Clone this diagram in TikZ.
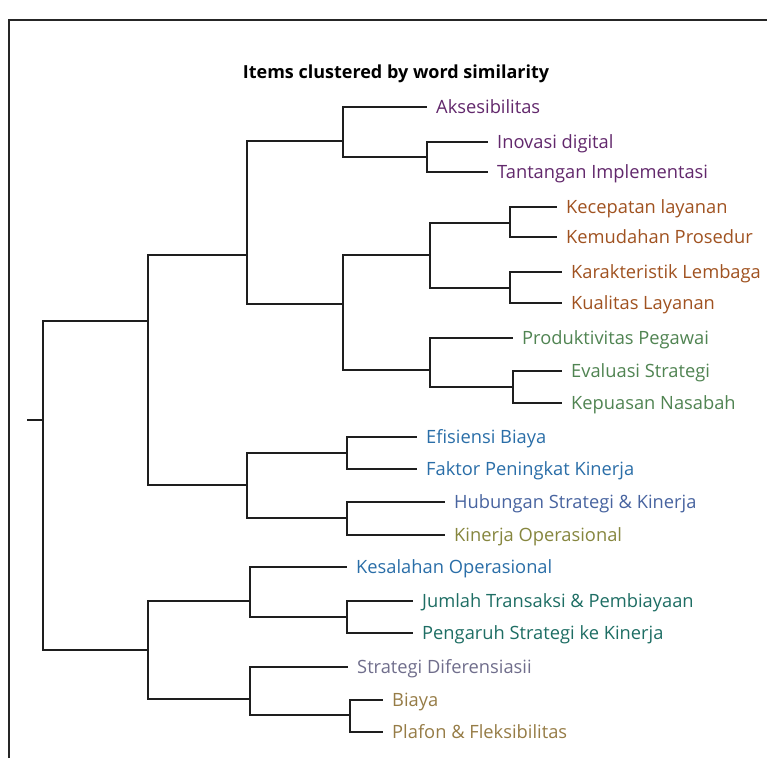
\documentclass[tikz,border=0pt]{standalone}
\usepackage{fontspec}
\setmainfont{Open Sans}
\definecolor{cPur}{RGB}{98,40,108}
\definecolor{cBro}{RGB}{160,82,32}
\definecolor{cGre}{RGB}{80,132,82}
\definecolor{cBlu}{RGB}{42,110,168}
\definecolor{cSla}{RGB}{72,100,160}
\definecolor{cOli}{RGB}{134,134,62}
\definecolor{cTea}{RGB}{30,110,100}
\definecolor{cGra}{RGB}{112,110,140}
\definecolor{cGol}{RGB}{150,124,70}
\definecolor{cLine}{RGB}{30,30,30}
\begin{document}
\begin{tikzpicture}[x=1pt,y=-1pt,
  br/.style={draw=cLine, line width=1.5pt},
  frm/.style={draw=black!85, line width=1.5pt},
  lbl/.style={anchor=base west, inner sep=0pt, font=\fontsize{18.3}{20}\selectfont},
  ttl/.style={inner sep=0pt, font=\bfseries\fontsize{18}{20}\selectfont}]
\useasboundingbox (0,0) rectangle (767,758);
\fill[white] (0,0) rectangle (767,758);
% frame
\coordinate (fb) at (9,758);
\coordinate (fc) at (9,20);
\coordinate (fr) at (767,20);
\draw[frm] (fb) -- (fc) -- (fr);
% title
\node[ttl] (title) at (396,74) {Items clustered by word similarity};
% internal nodes
\coordinate (r0) at (27,420);
\coordinate (r) at (43,420);
\coordinate (T) at (148,321);
\coordinate (U) at (148,650);
\coordinate (A) at (247,255);
\coordinate (B) at (247,485);
\coordinate (A1) at (343,141);
\coordinate (A2) at (343,304);
\coordinate (A1b) at (427,157);
\coordinate (A2a) at (430,255);
\coordinate (A2b) at (430,370);
\coordinate (A2a1) at (510,223);
\coordinate (A2a2) at (510,288);
\coordinate (A2b2) at (513,387);
\coordinate (B1) at (347,453);
\coordinate (B2) at (347,518);
\coordinate (U1) at (250,601);
\coordinate (U2) at (250,699);
\coordinate (U1b) at (347,617);
\coordinate (U2b) at (350,715);
% leaves
\coordinate (Aks) at (427,107);
\coordinate (Ino) at (488,142);
\coordinate (Tan) at (488,172);
\coordinate (Kec) at (557,207);
\coordinate (Kem) at (557,237);
\coordinate (Kar) at (562,272);
\coordinate (Kua) at (562,303);
\coordinate (Pro) at (513,338);
\coordinate (Eva) at (562,371);
\coordinate (Kep) at (562,403);
\coordinate (Efi) at (417,437);
\coordinate (Fak) at (417,469);
\coordinate (Hub) at (445,502);
\coordinate (Kin) at (445,535);
\coordinate (Kes) at (347,567);
\coordinate (Jum) at (413,601);
\coordinate (Pen) at (413,633);
\coordinate (Str) at (348,667);
\coordinate (Bia) at (383,700);
\coordinate (Pla) at (383,732);
% branches
\draw[br] (r0) -- (r);
\draw[br] (r) |- (T);
\draw[br] (r) |- (U);
\draw[br] (T) |- (A);
\draw[br] (T) |- (B);
\draw[br] (A) |- (A1);
\draw[br] (A) |- (A2);
\draw[br] (A1) |- (Aks);
\draw[br] (A1) |- (A1b);
\draw[br] (A1b) |- (Ino);
\draw[br] (A1b) |- (Tan);
\draw[br] (A2) |- (A2a);
\draw[br] (A2) |- (A2b);
\draw[br] (A2a) |- (A2a1);
\draw[br] (A2a) |- (A2a2);
\draw[br] (A2a1) |- (Kec);
\draw[br] (A2a1) |- (Kem);
\draw[br] (A2a2) |- (Kar);
\draw[br] (A2a2) |- (Kua);
\draw[br] (A2b) |- (Pro);
\draw[br] (A2b) |- (A2b2);
\draw[br] (A2b2) |- (Eva);
\draw[br] (A2b2) |- (Kep);
\draw[br] (B) |- (B1);
\draw[br] (B) |- (B2);
\draw[br] (B1) |- (Efi);
\draw[br] (B1) |- (Fak);
\draw[br] (B2) |- (Hub);
\draw[br] (B2) |- (Kin);
\draw[br] (U) |- (U1);
\draw[br] (U) |- (U2);
\draw[br] (U1) |- (Kes);
\draw[br] (U1) |- (U1b);
\draw[br] (U1b) |- (Jum);
\draw[br] (U1b) |- (Pen);
\draw[br] (U2) |- (Str);
\draw[br] (U2) |- (U2b);
\draw[br] (U2b) |- (Bia);
\draw[br] (U2b) |- (Pla);
% labels
\node[lbl,text=cPur] (tAks) at ([shift={(9,6.5)}]Aks) {Aksesibilitas};
\node[lbl,text=cPur] (tIno) at ([shift={(9,6.5)}]Ino) {Inovasi digital};
\node[lbl,text=cPur] (tTan) at ([shift={(9,6.5)}]Tan) {Tantangan Implementasi};
\node[lbl,text=cBro] (tKec) at ([shift={(9,6.5)}]Kec) {Kecepatan layanan};
\node[lbl,text=cBro] (tKem) at ([shift={(9,6.5)}]Kem) {Kemudahan Prosedur};
\node[lbl,text=cBro] (tKar) at ([shift={(9,6.5)}]Kar) {Karakteristik Lembaga};
\node[lbl,text=cBro] (tKua) at ([shift={(9,6.5)}]Kua) {Kualitas Layanan};
\node[lbl,text=cGre] (tPro) at ([shift={(9,6.5)}]Pro) {Produktivitas Pegawai};
\node[lbl,text=cGre] (tEva) at ([shift={(9,6.5)}]Eva) {Evaluasi Strategi};
\node[lbl,text=cGre] (tKep) at ([shift={(9,6.5)}]Kep) {Kepuasan Nasabah};
\node[lbl,text=cBlu] (tEfi) at ([shift={(9,6.5)}]Efi) {Efisiensi Biaya};
\node[lbl,text=cBlu] (tFak) at ([shift={(9,6.5)}]Fak) {Faktor Peningkat Kinerja};
\node[lbl,text=cSla] (tHub) at ([shift={(9,6.5)}]Hub) {Hubungan Strategi \& Kinerja};
\node[lbl,text=cOli] (tKin) at ([shift={(9,6.5)}]Kin) {Kinerja Operasional};
\node[lbl,text=cBlu] (tKes) at ([shift={(9,6.5)}]Kes) {Kesalahan Operasional};
\node[lbl,text=cTea] (tJum) at ([shift={(9,6.5)}]Jum) {Jumlah Transaksi \& Pembiayaan};
\node[lbl,text=cTea] (tPen) at ([shift={(9,6.5)}]Pen) {Pengaruh Strategi ke Kinerja};
\node[lbl,text=cGra] (tStr) at ([shift={(9,6.5)}]Str) {Strategi Diferensiasii};
\node[lbl,text=cGol] (tBia) at ([shift={(9,6.5)}]Bia) {Biaya};
\node[lbl,text=cGol] (tPla) at ([shift={(9,6.5)}]Pla) {Plafon \& Fleksibilitas};
\end{tikzpicture}
\end{document}
